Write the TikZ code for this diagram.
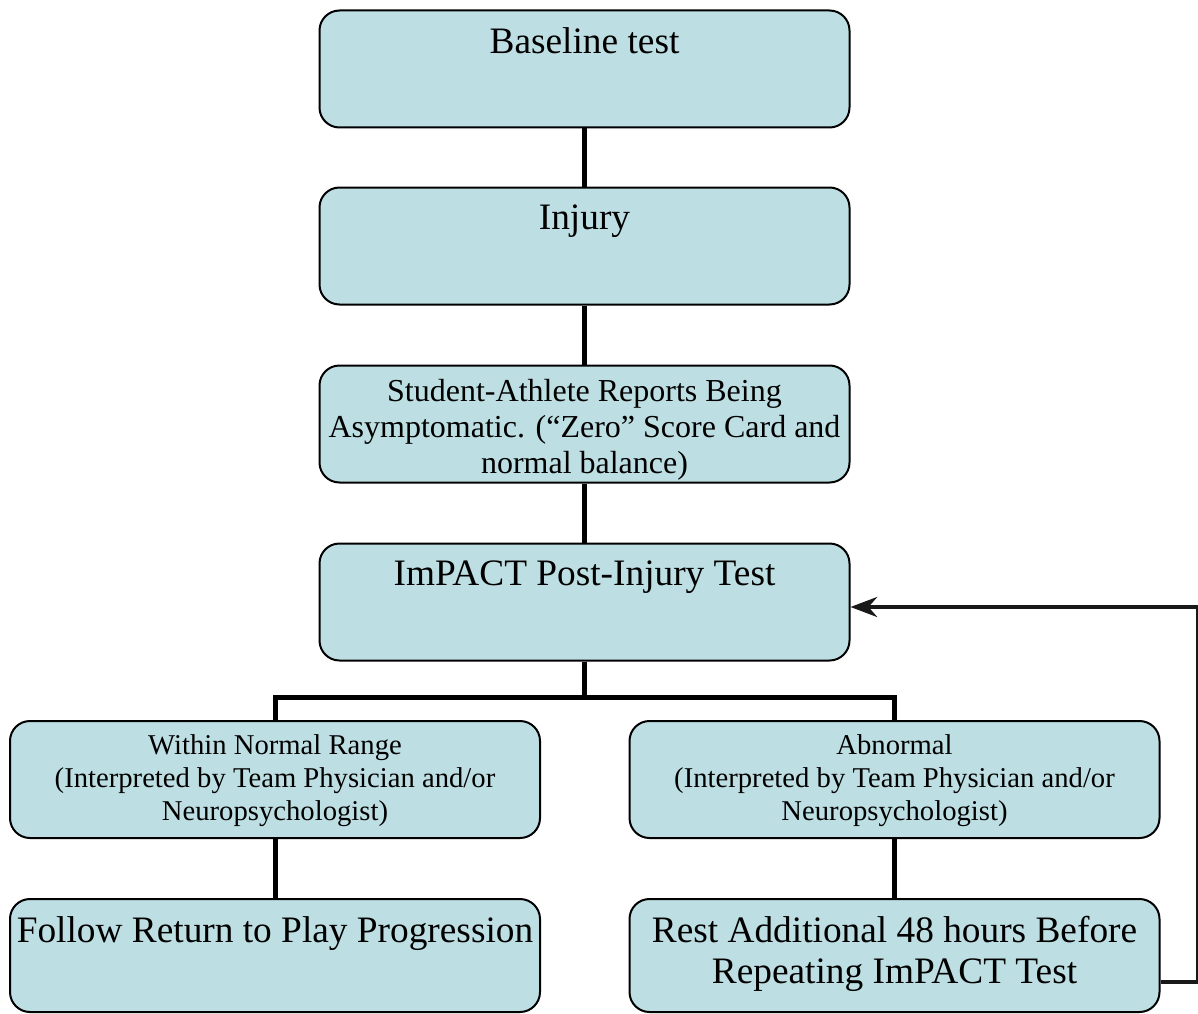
\documentclass[tikz,border=0pt]{standalone}
\usepackage{fontspec}
\setmainfont{Liberation Serif}
\usepackage{tikz}
\usepackage{xcolor}
\usetikzlibrary{arrows.meta}
\definecolor{boxfill}{RGB}{189,223,227}
\tikzset{
    flow-box/.style = {draw=black, fill=boxfill, line width=1.5pt, rectangle, rounded corners=15pt, minimum width=397.5pt, minimum height=87.75pt, inner sep=0pt, align=center},
    top-text/.style = {anchor=north, inner sep=0pt, yshift=#1, align=center},
    top-text/.default = -13.5pt,
    big-text/.style = {font=\fontsize{28}{30.75}\selectfont},
    mid-text/.style = {font=\fontsize{24}{27}\selectfont},
    small-text/.style = {font=\fontsize{21.5}{24.75}\selectfont},
    link/.style = {draw=black, line width=3.75pt},
    loop-back/.style = {draw=black!90, line width=3pt, -{Stealth[length=20pt, width=15pt]}},
}

\begin{document}
\begin{tikzpicture}[x=0.75pt, y=-0.75pt]
\useasboundingbox (0,0) rectangle (1198,1013);

\node [flow-box, label={[top-text, big-text]north:Baseline test}] (baseline) at (584.5,69) {};
\node [flow-box, label={[top-text, big-text]north:Injury}] (injury) at (584.5,246) {};
\node [flow-box, label={[top-text=-11.25pt, mid-text]north:Student-Athlete Reports Being\\Asymptomatic. (“Zero” Score Card and\\normal balance)}] (reports) at (584.5,424) {};
\node [flow-box, label={[top-text, big-text]north:ImPACT Post-Injury Test}] (impact) at (584.5,602) {};
\node [flow-box, label={[top-text=-10.5pt, small-text]north:Within Normal Range\\(Interpreted by Team Physician and/or\\Neuropsychologist)}] (normal) at (275,779.5) {};
\node [flow-box, label={[top-text=-10.5pt, small-text]north:Abnormal\\(Interpreted by Team Physician and/or\\Neuropsychologist)}] (abnormal) at (894.5,779.5) {};
\node [flow-box, minimum height=84.75pt, label={[top-text, big-text]north:Follow Return to Play Progression}] (follow) at (275,955.5) {};
\node [flow-box, minimum height=84.75pt, label={[top-text, big-text]north:Rest Additional 48 hours Before\\Repeating ImPACT Test}] (rest) at (894.5,955.5) {};

\coordinate (split) at (584.5,697);
\coordinate (loop-low) at (1198,982);
\coordinate (loop-high) at (1198,607);

\draw [link] (baseline.south) -- (injury.north);
\draw [link] (injury.south) -- (reports.north);
\draw [link] (reports.south) -- (impact.north);
\draw [link] (impact.south) -- (split);
\draw [link] (normal.north) |- (split) -| (abnormal.north);
\draw [link] (normal.south) -- (follow.north);
\draw [link] (abnormal.south) -- (rest.north);
\draw [loop-back] (rest.east |- loop-low) -- (loop-low) -- (loop-high) -- (impact.east |- loop-high);
\end{tikzpicture}
\end{document}
